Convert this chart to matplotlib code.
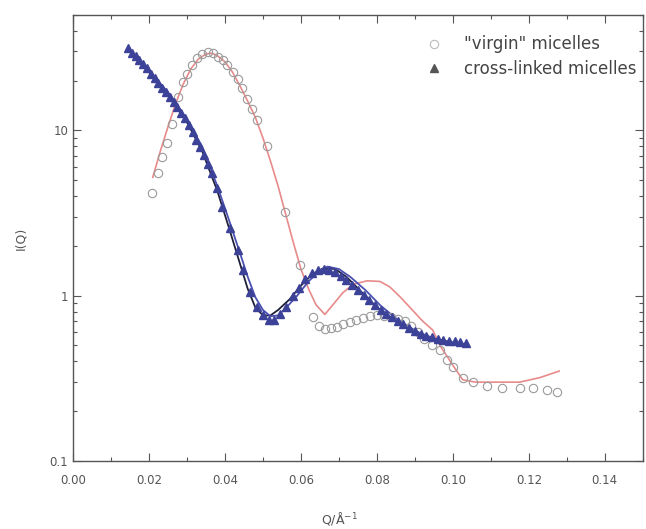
import matplotlib
matplotlib.use("Agg")
import matplotlib.pyplot as plt
from matplotlib.lines import Line2D
from matplotlib.ticker import MultipleLocator, LogLocator, NullFormatter

# "virgin" micelles: measured points
q_virgin = [0.0208, 0.0224, 0.0234, 0.0247, 0.0260, 0.0276, 0.0290, 0.0300, 0.0313,
            0.0326, 0.0340, 0.0355, 0.0368, 0.0382, 0.0395, 0.0405, 0.0420, 0.0434,
            0.0446, 0.0458, 0.0471, 0.0484, 0.0510, 0.0558, 0.0597, 0.0632, 0.0647,
            0.0663, 0.0679, 0.0695, 0.0711, 0.0729, 0.0745, 0.0763, 0.0782, 0.0800,
            0.0818, 0.0836, 0.0855, 0.0873, 0.0890, 0.0908, 0.0925, 0.0945, 0.0966,
            0.0984, 0.1000, 0.1026, 0.1053, 0.1090, 0.1130, 0.1176, 0.1210, 0.1247,
            0.1274]
i_virgin = [4.2, 5.5, 6.9, 8.4, 11.0, 16.0, 19.5, 22.0, 25.0,
            27.4, 29.0, 29.8, 29.5, 27.8, 26.5, 25.0, 22.5, 20.5,
            18.0, 15.5, 13.5, 11.6, 8.0, 3.2, 1.54, 0.74, 0.66,
            0.63, 0.64, 0.65, 0.67, 0.69, 0.71, 0.73, 0.75, 0.76,
            0.75, 0.74, 0.72, 0.70, 0.66, 0.60, 0.55, 0.50, 0.47,
            0.41, 0.37, 0.32, 0.30, 0.285, 0.278, 0.278, 0.278, 0.27,
            0.26]

# "virgin" micelles: model fit
q_virgin_fit = [0.0210, 0.0230, 0.0250, 0.0270, 0.0290, 0.0310, 0.0330, 0.0350, 0.0365,
                0.0380, 0.0400, 0.0420, 0.0440, 0.0460, 0.0480, 0.0500, 0.0520, 0.0540,
                0.0560, 0.0580, 0.0600, 0.0620, 0.0640, 0.0663, 0.0684, 0.0710, 0.0737,
                0.0774, 0.0808, 0.0834, 0.0860, 0.0887, 0.0921, 0.0947, 0.0966, 0.1000,
                0.1026, 0.1060, 0.1090, 0.1130, 0.1176, 0.1230, 0.1280]
i_virgin_fit = [5.2, 7.5, 10.5, 14.5, 19.0, 23.5, 27.0, 29.0, 29.3,
                28.3, 26.0, 22.5, 18.5, 15.0, 12.0, 9.0, 6.5, 4.6,
                3.1, 2.1, 1.45, 1.1, 0.88, 0.77, 0.88, 1.04, 1.17,
                1.23, 1.22, 1.13, 0.99, 0.85, 0.70, 0.62, 0.50, 0.38,
                0.31, 0.30, 0.30, 0.30, 0.30, 0.32, 0.35]

# cross-linked micelles: measured points
q_xl = [0.0145, 0.0155, 0.0165, 0.0175, 0.0185, 0.0195, 0.0205, 0.0215, 0.0225,
        0.0235, 0.0245, 0.0255, 0.0265, 0.0275, 0.0285, 0.0295, 0.0305, 0.0315,
        0.0325, 0.0335, 0.0345, 0.0355, 0.0365, 0.0378, 0.0392, 0.0413, 0.0434,
        0.0447, 0.0466, 0.0484, 0.0500, 0.0515, 0.0530, 0.0545, 0.0560, 0.0578,
        0.0595, 0.0612, 0.0629, 0.0645, 0.0660, 0.0675, 0.0690, 0.0705, 0.0720,
        0.0735, 0.0750, 0.0765, 0.0780, 0.0795, 0.0810, 0.0825, 0.0840, 0.0855,
        0.0870, 0.0885, 0.0900, 0.0915, 0.0930, 0.0945, 0.0960, 0.0975, 0.0990,
        0.1005, 0.1020, 0.1035]
i_xl = [31.5, 29.5, 28.0, 26.8, 25.3, 23.8, 22.0, 20.6, 19.3,
        18.1, 17.0, 15.9, 14.9, 13.8, 12.8, 11.8, 10.8, 9.8,
        8.8, 7.9, 7.1, 6.3, 5.5, 4.5, 3.45, 2.58, 1.90,
        1.44, 1.06, 0.86, 0.76, 0.71, 0.71, 0.77, 0.86, 1.0,
        1.12, 1.26, 1.38, 1.43, 1.45, 1.44, 1.40, 1.32, 1.24,
        1.16, 1.08, 1.01, 0.94, 0.88, 0.82, 0.78, 0.74, 0.70,
        0.67, 0.64, 0.61, 0.59, 0.57, 0.56, 0.55, 0.54, 0.535,
        0.53, 0.525, 0.52]

# cross-linked micelles: two model fits
q_xl_fit1 = [0.0145, 0.0200, 0.0250, 0.0300, 0.0340, 0.0380, 0.0410, 0.0440, 0.0460,
             0.0480, 0.0500, 0.0520, 0.0540, 0.0570, 0.0600, 0.0630, 0.0660, 0.0690,
             0.0720, 0.0760, 0.0800, 0.0850, 0.0900, 0.0950, 0.1000, 0.1030]
i_xl_fit1 = [31.0, 22.5, 16.3, 11.2, 7.5, 4.3, 2.6, 1.55, 1.1,
             0.85, 0.76, 0.76, 0.82, 0.95, 1.15, 1.35, 1.47, 1.45,
             1.30, 1.05, 0.85, 0.70, 0.61, 0.55, 0.52, 0.51]
q_xl_fit2 = [0.0145, 0.0200, 0.0250, 0.0300, 0.0340, 0.0380, 0.0410, 0.0440, 0.0460,
             0.0480, 0.0500, 0.0520, 0.0540, 0.0560, 0.0590, 0.0620, 0.0650, 0.0670,
             0.0700, 0.0730, 0.0770, 0.0810, 0.0860, 0.0910, 0.0960, 0.1000, 0.1030]
i_xl_fit2 = [31.5, 23.0, 17.0, 11.6, 8.0, 4.6, 2.9, 1.8, 1.3,
             0.98, 0.82, 0.75, 0.76, 0.84, 1.0, 1.22, 1.42, 1.50,
             1.45, 1.30, 1.08, 0.87, 0.70, 0.60, 0.54, 0.52, 0.51]

fig = plt.figure(figsize=(6.46, 5.29), dpi=100)
ax = fig.add_axes([0.113, 0.1285, 0.882, 0.8435])

ax.plot(q_virgin_fit, i_virgin_fit, color="#e88a8a", lw=1.2, zorder=2)
ax.plot(q_xl_fit1, i_xl_fit1, color="#20203a", lw=1.3, zorder=3)
ax.plot(q_xl_fit2, i_xl_fit2, color="#4a50b0", lw=1.3, zorder=3)
ax.plot(q_virgin, i_virgin, 'o', ms=6, mfc='none', mec="#9a9a9a", mew=0.8, zorder=4)
ax.plot(q_xl, i_xl, '^', ms=5.5, color="#3d4299", mec="#3d4299", zorder=5)

ax.set_yscale('log')
ax.set_xlim(0, 0.15)
ax.set_ylim(0.1, 50)

ax.xaxis.set_minor_locator(MultipleLocator(0.01))
ax.set_xticks([0.00, 0.02, 0.04, 0.06, 0.08, 0.10, 0.12, 0.14])
ax.set_xticklabels(['0.00', '0.02', '0.04', '0.06', '0.08', '0.10', '0.12', '0.14'])
ax.set_yticks([0.1, 1, 10])
ax.set_yticklabels(['0.1', '1', '10'])
ax.yaxis.set_minor_locator(LogLocator(base=10, subs=range(2, 10)))
ax.yaxis.set_minor_formatter(NullFormatter())

ax.tick_params(which='both', direction='in', top=True, right=True,
               colors="#555555", labelsize=8.5)
ax.tick_params(which='major', length=6, width=0.8)
ax.tick_params(which='minor', length=3, width=0.8)
ax.tick_params(axis='x', pad=9)
for s in ax.spines.values():
    s.set_color("#555555")
    s.set_linewidth(1.0)

ax.set_ylabel("I(Q)", fontsize=9, color="#555555", labelpad=16)
ax.set_xlabel("Q/Å$^{-1}$", fontsize=9, color="#555555")
ax.xaxis.set_label_coords(0.467, -0.11)

handles = [Line2D([], [], ls='none', marker='o', ms=6, mfc='none', mec="#bbbbbb", mew=0.8),
           Line2D([], [], ls='none', marker='^', ms=6, color="#555555")]
ax.legend(handles, ['"virgin" micelles', 'cross-linked micelles'], loc='upper right',
          bbox_to_anchor=(1.0, 0.9686), borderaxespad=0, frameon=False, fontsize=12,
          handletextpad=0.8, labelspacing=0.4, labelcolor="#444444")

fig.savefig("out.png", dpi=100, facecolor="white")
